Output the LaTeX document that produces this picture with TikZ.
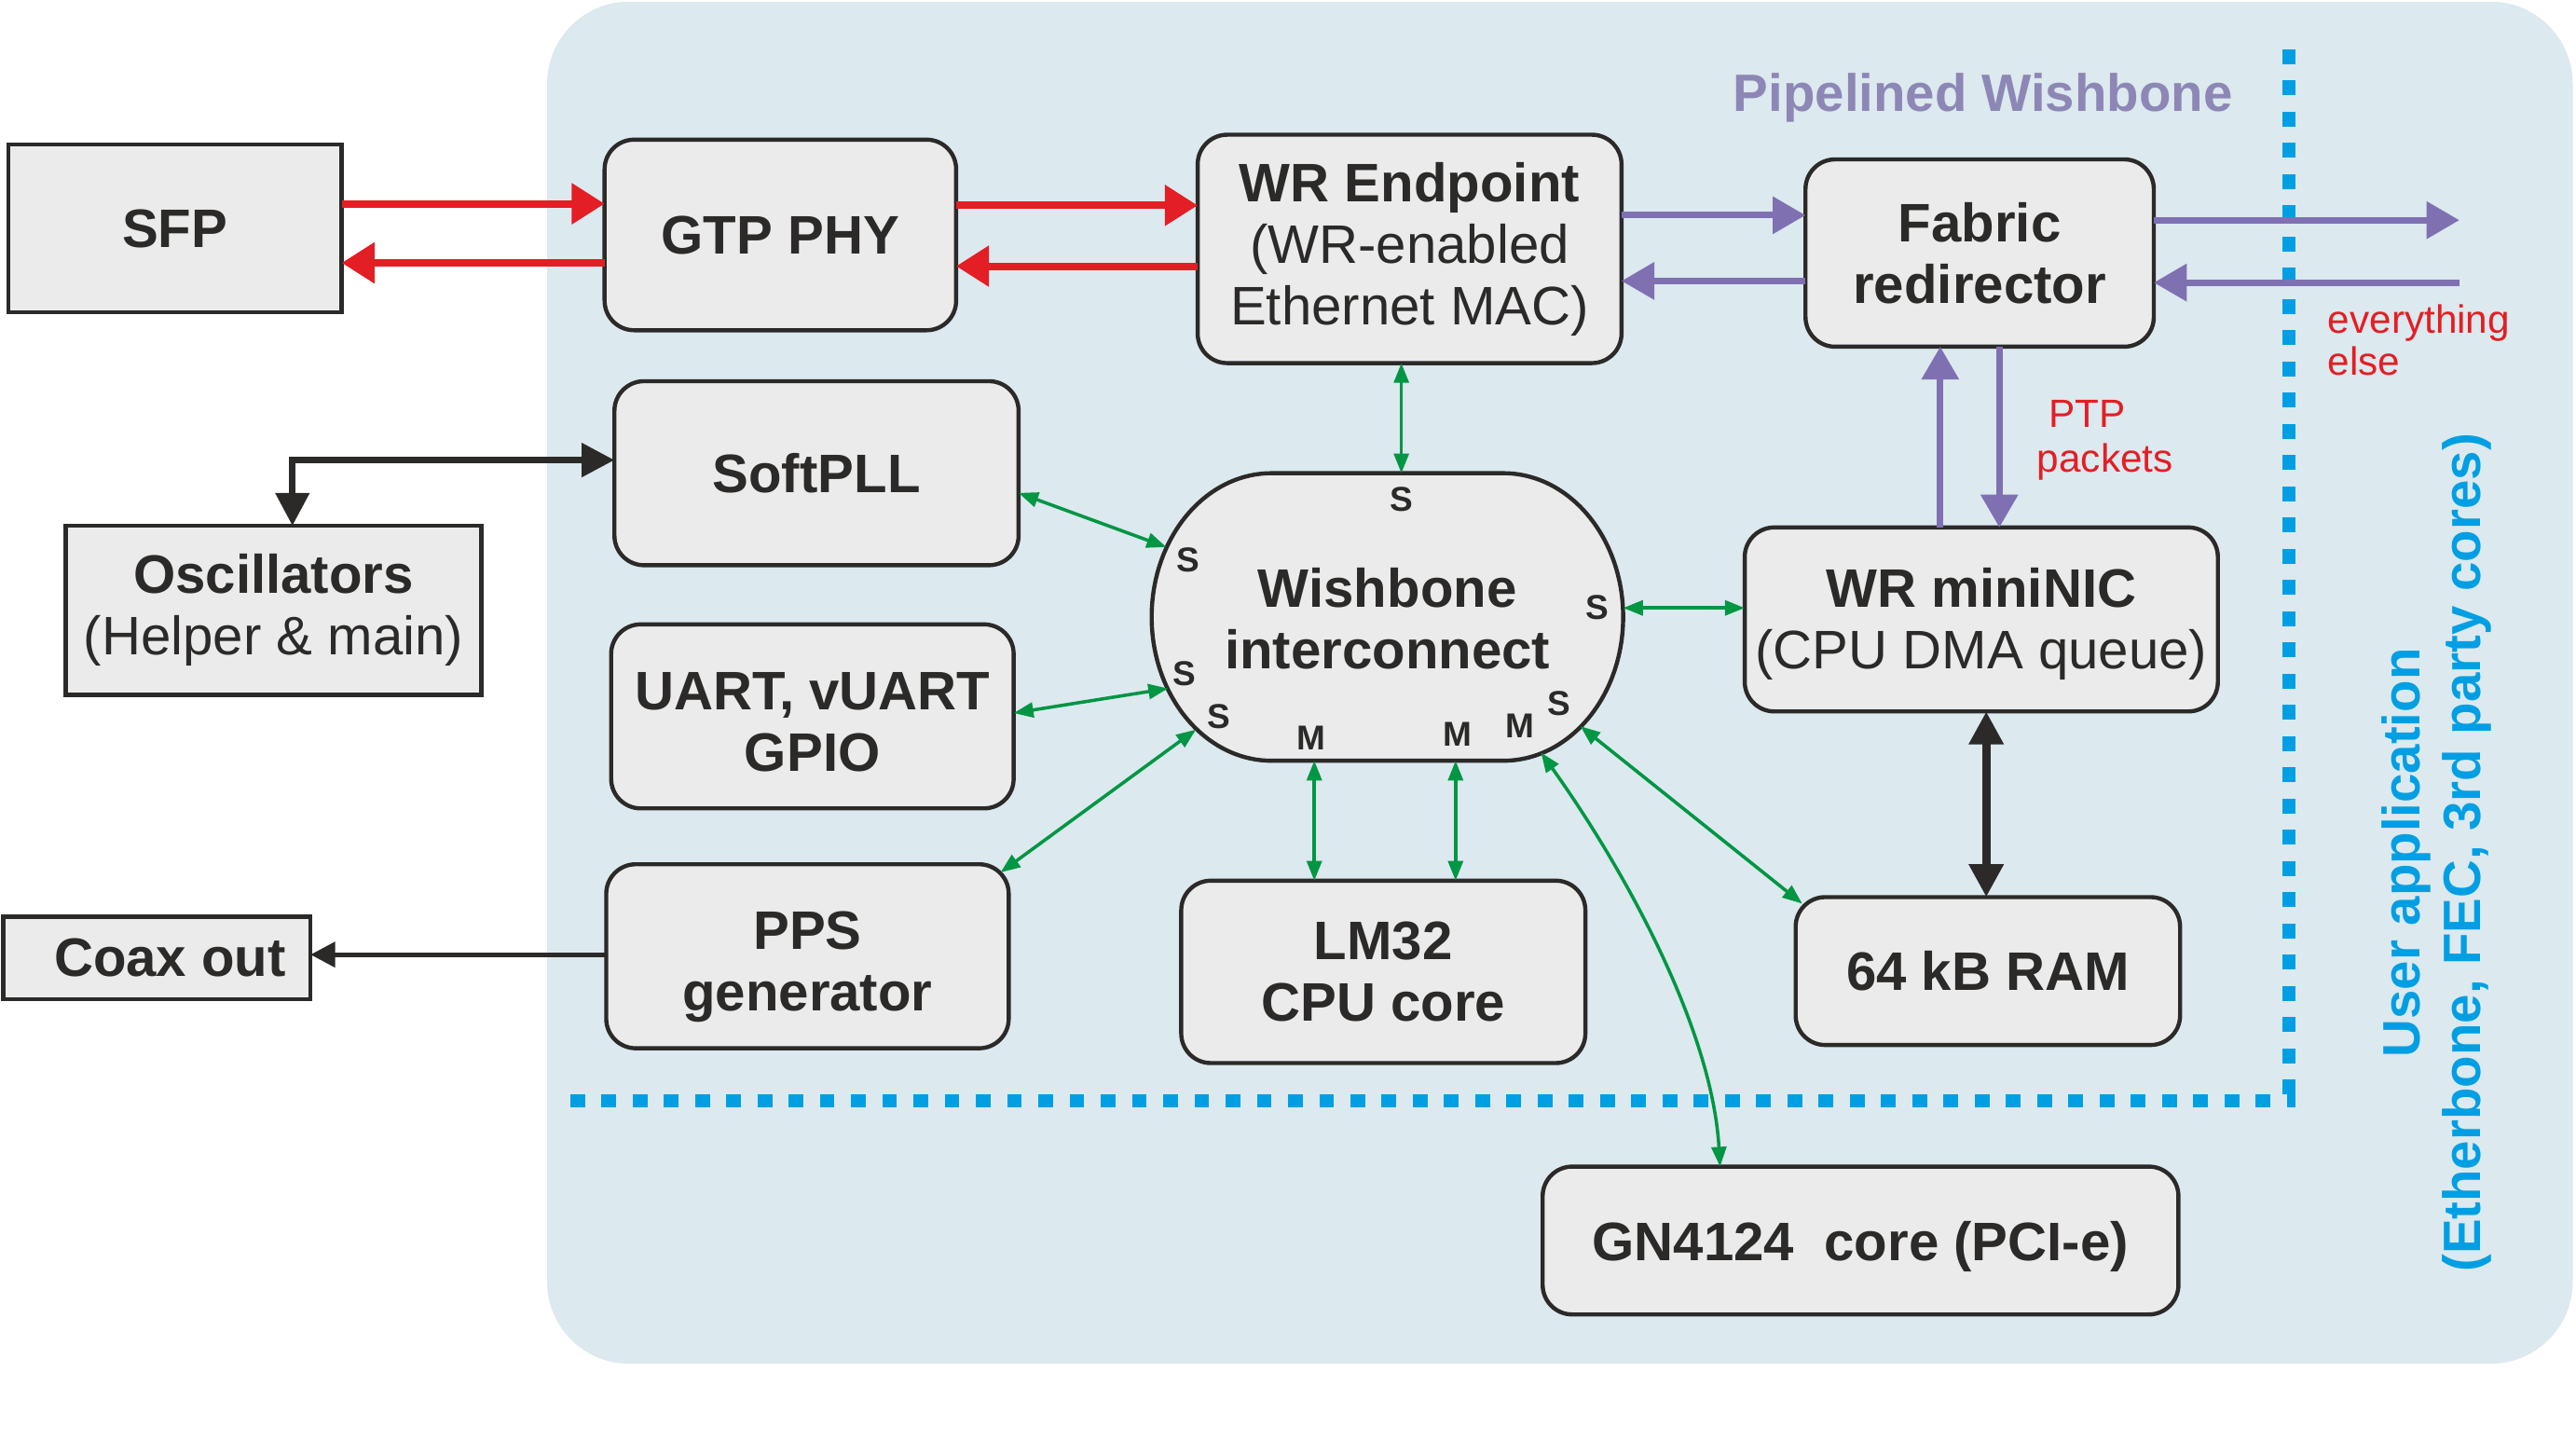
\documentclass[tikz,border=0pt]{standalone}
\usepackage{fontspec}
\setmainfont{Liberation Sans}
\usetikzlibrary{arrows.meta,calc}
\definecolor{panel}{RGB}{220,233,238}
\definecolor{boxfill}{RGB}{235,235,235}
\definecolor{ink}{RGB}{43,42,41}
\definecolor{wrred}{RGB}{227,30,36}
\definecolor{wbpurple}{RGB}{127,112,178}
\definecolor{pwtext}{RGB}{141,135,182}
\definecolor{wbgreen}{RGB}{0,150,68}
\definecolor{ublue}{RGB}{0,159,227}
\newcommand{\lowerby}[2]{\raisebox{-#1}[\height][\depth]{\begin{tabular}{@{}c@{}}#2\end{tabular}}}
\begin{document}
\begin{tikzpicture}[x=1pt,y=-1pt,
  every node/.style={inner sep=0pt, outer sep=0pt},
  rbox/.style={draw=ink, fill=boxfill, line width=2.5pt, rounded corners=18pt, align=center, text=ink, font=\fontsize{33}{37.5}\selectfont},
  sbox/.style={rbox, rounded corners=0pt},
  redarr/.style={draw=wrred, line width=4.5pt, -{Triangle[length=20pt,width=24pt]}},
  purarr/.style={draw=wbpurple, line width=4pt, -{Triangle[length=20pt,width=22pt]}},
  blkarr/.style={draw=ink, line width=4pt, {Triangle[length=20pt,width=20pt]}-{Triangle[length=20pt,width=20pt]}},
  grnarr/.style={draw=wbgreen, line width=2pt, {Triangle[length=12pt,width=9pt]}-{Triangle[length=12pt,width=9pt]}},
  port/.style={font=\fontsize{21}{21}\selectfont\bfseries, text=ink},
  dots/.style={draw=ublue, line width=8pt, dash pattern=on 9pt off 10pt},
]
\useasboundingbox (0,0) rectangle (1568,885);
% background panel
\fill[panel, rounded corners=50pt] (333,1) rectangle (1566,830);
% dotted separators
\draw[dots] (347,670) -- (1397,670);
\draw[dots] (1393,30) -- (1393,666);

% boxes
\node[sbox, minimum width=203pt, minimum height=102pt] (sfp) at (106.5,139) {\textbf{SFP}};
\node[sbox, minimum width=253pt, minimum height=103pt] (osc) at (166.5,371.5) {\textbf{Oscillators}\\(Helper \& main)};
\node[sbox, minimum width=187pt, minimum height=50pt] (coax) at (95.5,583) {\hspace{16pt}\textbf{Coax out}};

\node[rbox, minimum width=214pt, minimum height=116pt] (gtp) at (475,143) {\textbf{GTP PHY}};
\node[rbox, minimum width=258pt, minimum height=139pt] (wrep) at (858,151.5) {\textbf{WR Endpoint}\\(WR-enabled\\Ethernet MAC)};
\node[rbox, minimum width=212pt, minimum height=114pt] (fab) at (1205,154) {\textbf{Fabric}\\\textbf{redirector}};
\node[rbox, minimum width=246pt, minimum height=112pt] (softpll) at (497,288) {\textbf{SoftPLL}};
\node[rbox, minimum width=245pt, minimum height=112pt] (uart) at (494.5,436) {\lowerby{7pt}{\textbf{UART, vUART}\\\textbf{GPIO}}};
\node[rbox, minimum width=245pt, minimum height=112pt] (pps) at (491.5,582) {\lowerby{7pt}{\textbf{PPS}\\\textbf{generator}}};
\node[rbox, minimum width=246pt, minimum height=111pt] (lm32) at (842,591.5) {\textbf{LM32}\\\textbf{CPU core}};
\node[rbox, minimum width=234pt, minimum height=90pt] (ram) at (1210,591) {\textbf{64 kB RAM}};
\node[rbox, minimum width=288pt, minimum height=112pt] (nic) at (1206,377) {\lowerby{4pt}{\textbf{WR miniNIC}\\(CPU DMA queue)}};
\node[rbox, minimum width=387pt, minimum height=90pt] (gn) at (1132.5,755) {\raisebox{-4pt}[\height][\depth]{\textbf{GN4124\ \ core (PCI-e)}}};

% wishbone interconnect
\draw[draw=ink, fill=boxfill, line width=2.5pt] (774,288) -- (915,288)
  arc[start angle=270, end angle=450, x radius=73, y radius=87.5] -- (774,463)
  arc[start angle=90, end angle=270, x radius=73, y radius=87.5] -- cycle;
\node[align=center, text=ink, font=\fontsize{33}{37.5}\selectfont\bfseries] (wb) at (844.5,376.5) {Wishbone\\interconnect};
\coordinate (pT) at (853,288);
\coordinate (pS1) at (710,333);
\coordinate (pS2) at (711,419);
\coordinate (pS3) at (728,444);
\coordinate (pS4) at (988,370);
\coordinate (pS5) at (962,442);
\coordinate (pM1) at (800,463);
\coordinate (pM2) at (886,463);
\coordinate (pM3) at (938,458);
\node[port] (lT) at (853,304) {S};
\node[port] (lS1) at (723,341) {S};
\node[port] (lS4) at (972,370) {S};
\node[port] (lS2) at (721,410) {S};
\node[port] (lS3) at (742,436) {S};
\node[port] (lS5) at (949,428) {S};
\node[port] (lM1) at (798,449) {M};
\node[port] (lM2) at (887,447) {M};
\node[port] (lM3) at (925,442) {M};

% labels
\node[anchor=base, font=\fontsize{32}{36}\selectfont\bfseries, text=pwtext] (pwlabel) at (1207,68) {Pipelined Wishbone};
\node[anchor=west, align=left, font=\fontsize{24}{27}\selectfont, text=wrred] (ptp) at (1240,268) {\hspace{7pt}PTP\\packets};
\node[anchor=west, align=left, font=\fontsize{24}{26}\selectfont, text=wrred] (else) at (1417,207) {everything\\else};
\node[rotate=90, align=center, text=ublue, font=\fontsize{32}{37}\selectfont\bfseries] (userapp) at (1483,519) {User application\\(Etherbone, FEC, 3rd party cores)};

% red links
\draw[redarr] ($(sfp.east)+(0,-15)$) -- ($(gtp.west)+(0,-19)$);
\draw[redarr] ($(gtp.west)+(0,17)$) -- ($(sfp.east)+(0,21)$);
\draw[redarr] ($(gtp.east)+(0,-18)$) -- ($(wrep.west)+(0,-26.5)$);
\draw[redarr] ($(wrep.west)+(0,10.5)$) -- ($(gtp.east)+(0,19)$);

% purple links
\coordinate (outR) at (1497,134);
\coordinate (inR) at (1497,172);
\draw[purarr] ($(wrep.east)+(0,-20.5)$) -- ($(fab.west)+(0,-23)$);
\draw[purarr] ($(fab.west)+(0,17)$) -- ($(wrep.east)+(0,19.5)$);
\draw[purarr] ($(fab.east)+(0,-20)$) -- (outR);
\draw[purarr] (inR) -- ($(fab.east)+(0,18)$);
\draw[purarr] ($(nic.north)+(-25,0)$) -- ($(fab.south)+(-24,0)$);
\draw[purarr] ($(fab.south)+(12,0)$) -- ($(nic.north)+(11,0)$);

% black links
\draw[blkarr] ($(softpll.west)+(0,-8)$) -| ($(osc.north)+(11.5,0)$);
\draw[draw=ink, line width=3pt, -{Triangle[length=15pt,width=15pt]}] ($(pps.west)+(0,-1)$) -- ($(coax.east)+(0,-2)$);
\draw[blkarr, line width=5pt] ($(nic.south)+(3,0)$) -- ($(ram.north)+(-1,0)$);

% green wishbone links
\draw[grnarr] ($(wrep.south)+(-5,0)$) -- (pT);
\draw[grnarr] ($(softpll.east)+(0,12)$) -- (pS1);
\draw[grnarr] ($(uart.east)+(0,-2)$) -- (pS2);
\draw[grnarr] ($(pps.north east)+(-5,5)$) -- (pS3);
\draw[grnarr] ($(lm32.north)+(-42,0)$) -- (pM1);
\draw[grnarr] ($(lm32.north)+(44,0)$) -- (pM2);
\draw[grnarr] ($(ram.north west)+(4,4)$) -- (pS5);
\draw[grnarr] (pM3) .. controls (988,528) and (1042,625) .. ($(gn.north)+(-85.5,0)$);
\draw[grnarr] ($(nic.west)+(0,-7)$) -- (pS4);
\end{tikzpicture}
\end{document}
